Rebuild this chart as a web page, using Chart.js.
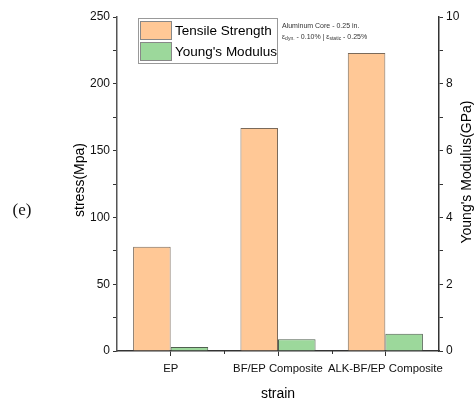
<!DOCTYPE html>
<html>
<head>
<meta charset="utf-8">
<script src="https://cdn.jsdelivr.net/npm/chart.js@4"></script>
<style>
  html, body { margin: 0; padding: 0; background: #fff; }
  #wrap { width: 475px; height: 403px; }
</style>
</head>
<body>
<div id="wrap"><canvas id="graph" width="475" height="403"></canvas></div>
<script>
// data
const categories = ["EP", "BF/EP Composite", "ALK-BF/EP Composite"];
const tensileStrength = [78, 167, 223];   // MPa, left axis
const youngsModulus = [0.12, 0.35, 0.52];  // GPa, right axis
const leftTicks = [0, 50, 100, 150, 200, 250];
const rightTicks = [0, 2, 4, 6, 8, 10];

const FONT = "'Liberation Sans', Arial, sans-serif";
const AXIS = "#333";

// -------------------------
// extra drawing: legend, note, titles, minor x ticks
// -------------------------
const decorations = {
  id: "decorations",
  afterDraw(chart) {
    const ctx = chart.ctx;
    const area = chart.chartArea;
    const x = chart.scales.x;
    ctx.save();

    // minor ticks between categories
    ctx.strokeStyle = AXIS;
    ctx.lineWidth = 1;
    for (let i = 1; i < categories.length; i++) {
      const px = Math.round((x.getPixelForValue(i - 1) + x.getPixelForValue(i)) / 2) + 0.5;
      ctx.beginPath();
      ctx.moveTo(px, area.bottom);
      ctx.lineTo(px, area.bottom + 3);
      ctx.stroke();
    }

    // legend box
    const lx = 138, ly = 18, lw = 139, lh = 45;
    ctx.strokeStyle = "#999";
    ctx.strokeRect(lx + 0.5, ly + 0.5, lw, lh);
    chart.data.datasets.forEach((ds, i) => {
      const sy = ly + 3 + i * 21;
      ctx.fillStyle = ds.backgroundColor;
      ctx.fillRect(140, sy, 31, 18);
      ctx.strokeStyle = "#888";
      ctx.strokeRect(140.5, sy + 0.5, 31, 18);
      ctx.fillStyle = "#000";
      ctx.font = "13.5px " + FONT;
      ctx.textBaseline = "middle";
      ctx.textAlign = "left";
      ctx.fillText(ds.label, 175, sy + 10);
    });

    // note text
    ctx.fillStyle = "#333";
    ctx.font = "7px " + FONT;
    ctx.textBaseline = "middle";
    ctx.fillText("Aluminum Core - 0.25 in.", 282, 26);
    let tx = 282;
    const seg = (t, dy, f) => {
      ctx.font = f + " " + FONT;
      ctx.fillText(t, tx, 37 + dy);
      tx += ctx.measureText(t).width;
    };
    seg("\u03b5", 0, "7px");
    seg("dyn.", 2, "5px");
    seg(" - 0.10% | \u03b5", 0, "7px");
    seg("static", 2, "5px");
    seg(" - 0.25%", 0, "7px");

    // (e)
    ctx.fillStyle = "#111";
    ctx.font = "17px 'Liberation Serif', 'Times New Roman', serif";
    ctx.textAlign = "center";
    ctx.fillText("(e)", 22, 211);

    // axis titles
    ctx.font = "14px " + FONT;
    ctx.fillStyle = "#000";
    ctx.fillText("strain", (area.left + area.right) / 2, 394);

    ctx.translate(80, 180);
    ctx.rotate(-Math.PI / 2);
    ctx.fillText("stress(Mpa)", 0, 0);
    ctx.setTransform(1, 0, 0, 1, 0, 0);

    ctx.translate(467, 172);
    ctx.rotate(-Math.PI / 2);
    ctx.fillText("Young's Modulus(GPa)", 0, 0);
    ctx.restore();
  }
};

// -------------------------
// INIT CHART
// -------------------------
function initChart() {
  const ctx = document.getElementById("graph").getContext("2d");

  new Chart(ctx, {
    type: "bar",
    data: {
      labels: categories,
      datasets: [{
        label: "Tensile Strength",
        data: tensileStrength,
        yAxisID: "y",
        backgroundColor: "#FFC896",
        borderColor: "#7a6a5a",
        borderWidth: 1,
        categoryPercentage: 0.7,
        barPercentage: 1
      }, {
        label: "Young's Modulus",
        data: youngsModulus,
        yAxisID: "y2",
        backgroundColor: "#9CD89B",
        borderColor: "#4f5f4f",
        borderWidth: 1,
        categoryPercentage: 0.7,
        barPercentage: 1
      }]
    },
    options: {
      responsive: false,
      animation: false,
      layout: { padding: { top: 17, left: 0, right: 0, bottom: 0 } },
      plugins: {
        legend: { display: false },
        tooltip: { enabled: false }
      },
      scales: {
        x: {
          grid: { drawOnChartArea: false, color: AXIS, tickLength: 5, offset: false },
          border: { color: AXIS, width: 1.5 },
          ticks: {
            color: "#111",
            font: { family: FONT, size: 11.3 },
            padding: 6,
            maxRotation: 0,
            autoSkip: false
          },
          afterFit(s) { s.height = 52; }
        },
        y: {
          position: "left",
          min: 0, max: 250,
          grid: { drawOnChartArea: false, color: AXIS, tickLength: 4 },
          border: { color: "#555", width: 1.5 },
          ticks: {
            stepSize: 25,
            color: "#111",
            font: { family: FONT, size: 12 },
            padding: 3,
            callback: v => leftTicks.includes(v) ? v : ""
          },
          afterFit(s) { s.width = 117; }
        },
        y2: {
          position: "right",
          min: 0, max: 10,
          grid: { drawOnChartArea: false, color: AXIS, tickLength: 4 },
          border: { color: AXIS, width: 1.5 },
          ticks: {
            stepSize: 1,
            color: "#111",
            font: { family: FONT, size: 12 },
            padding: 3,
            callback: v => rightTicks.includes(v) ? v : ""
          },
          afterFit(s) { s.width = 36; }
        }
      }
    },
    plugins: [decorations]
  });
}

initChart();
</script>
</body>
</html>
